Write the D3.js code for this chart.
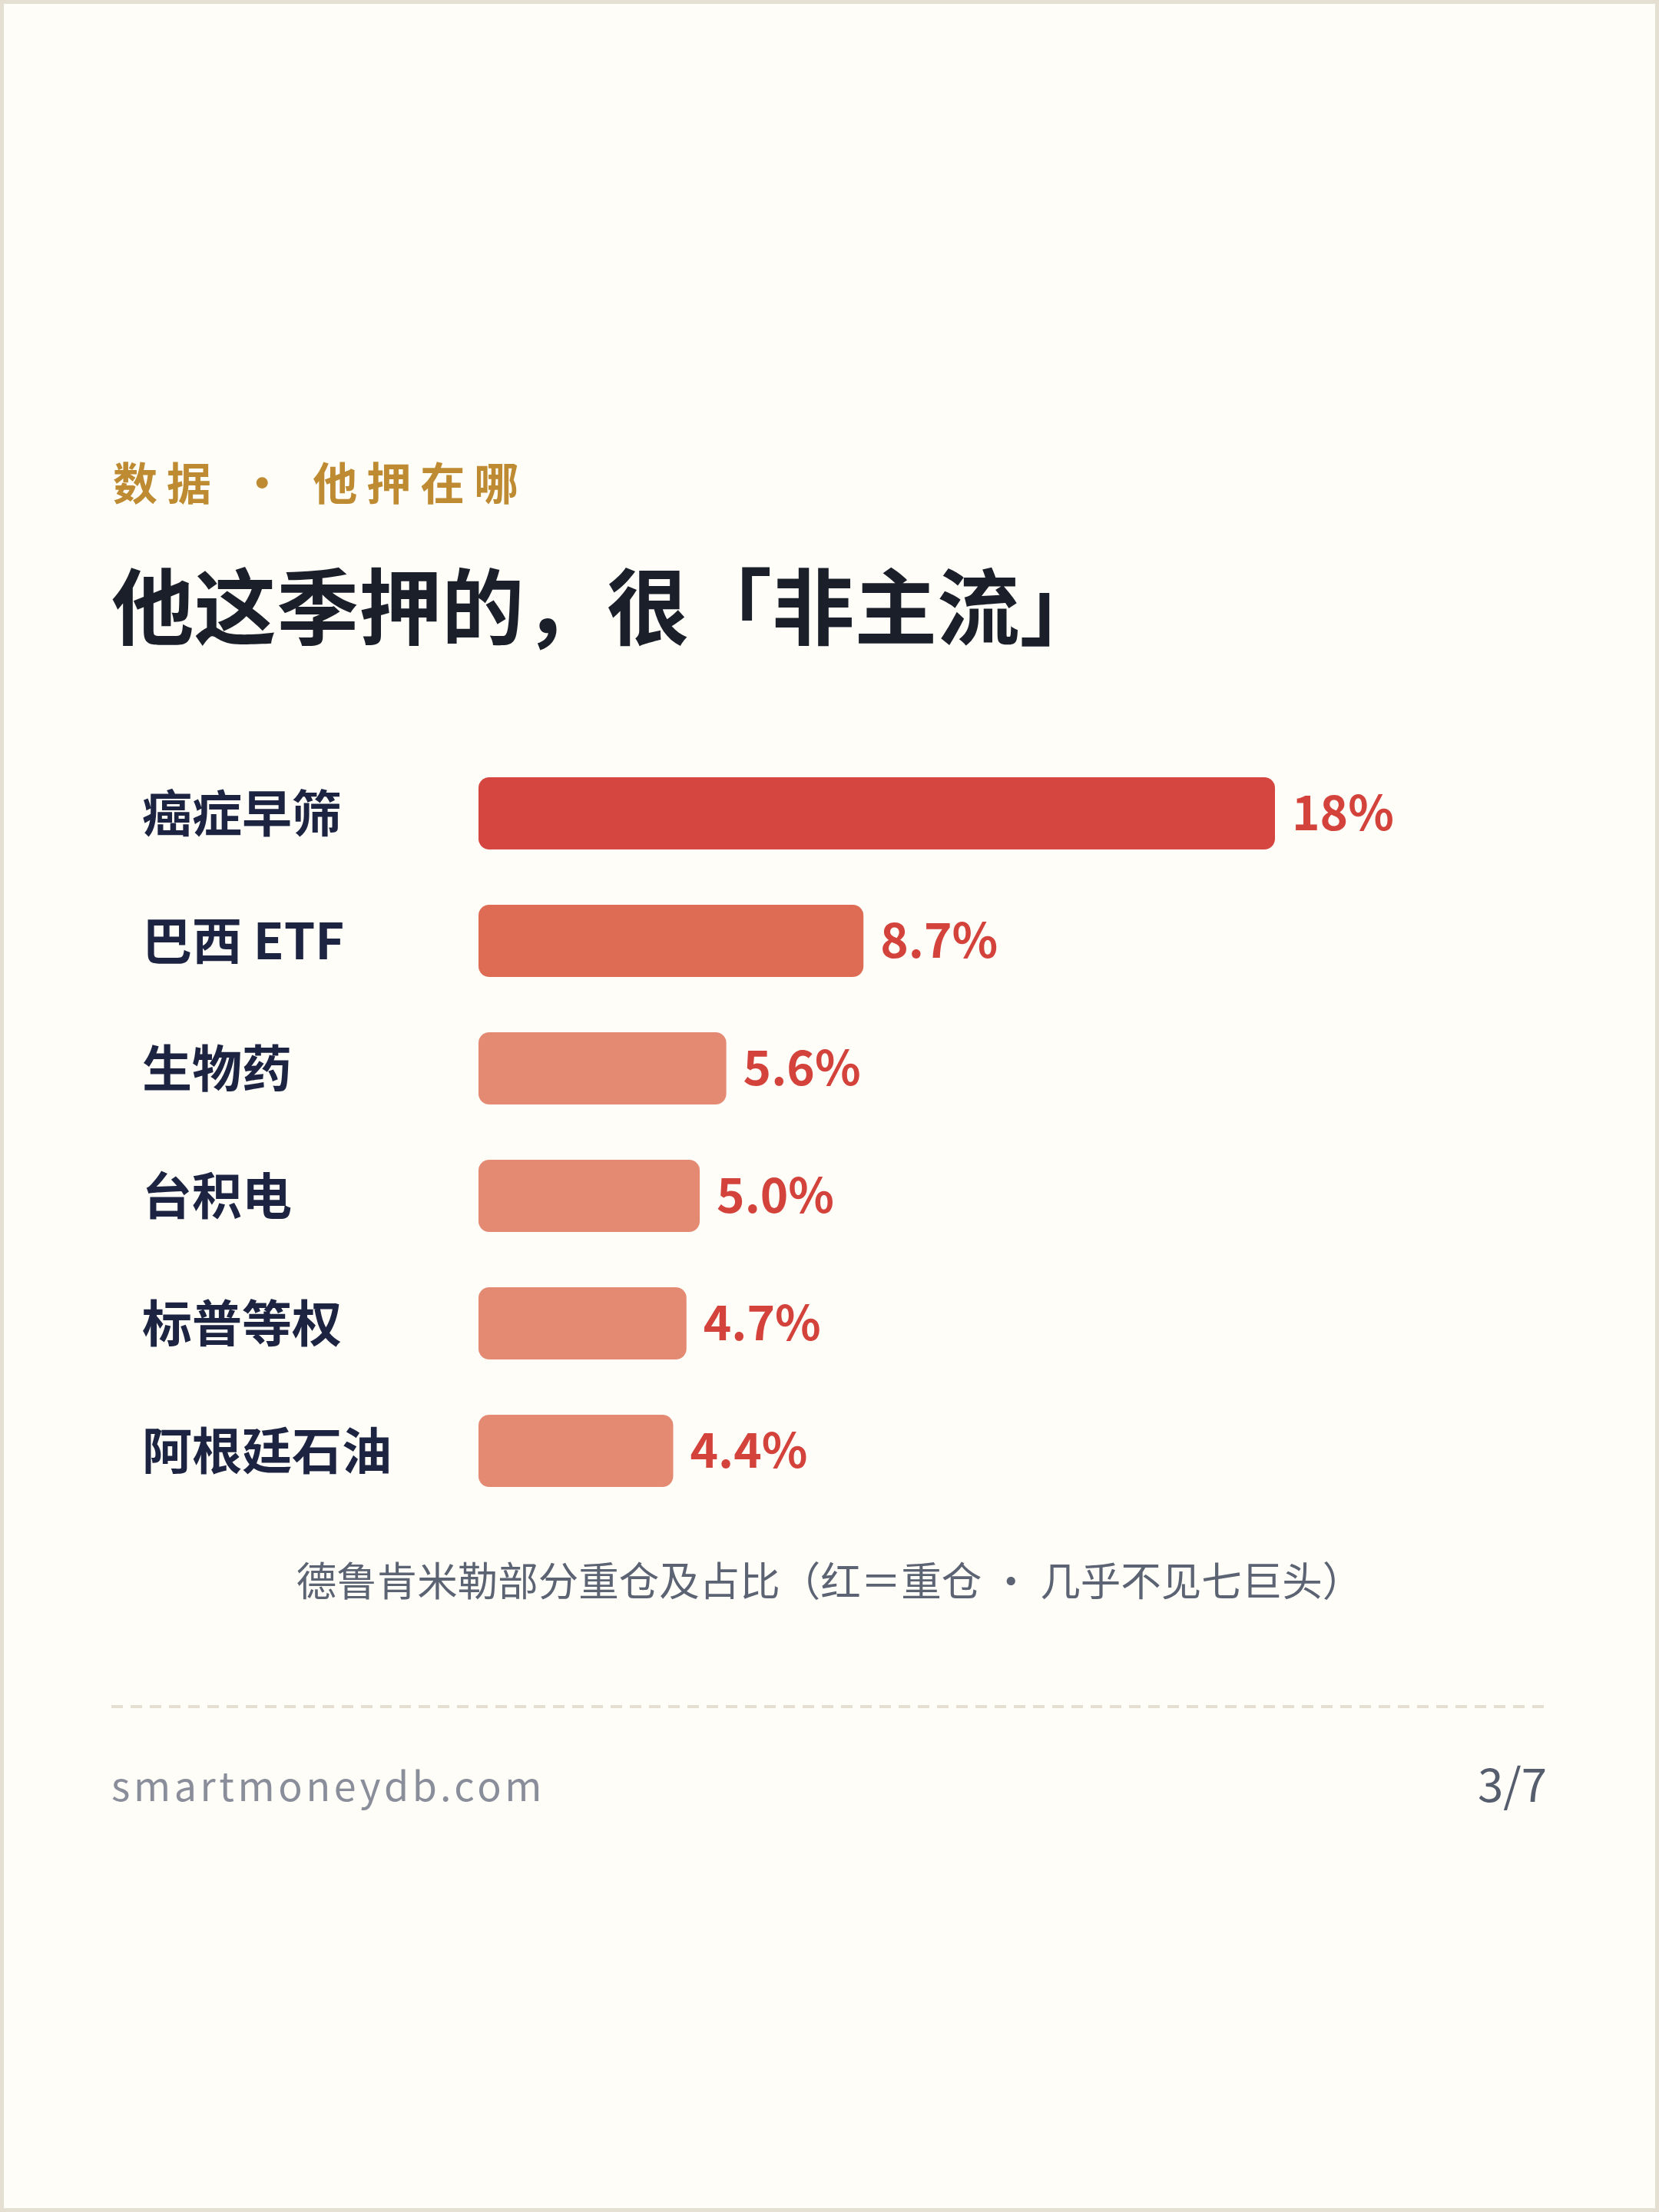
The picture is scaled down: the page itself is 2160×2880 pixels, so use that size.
<!DOCTYPE html>
<html>
<head>
<meta charset="utf-8">
<script src="https://cdn.jsdelivr.net/npm/d3@7"></script>
<style>
    html, body { margin: 0; padding: 0; background: #fefdf8; }
    svg { display: block; }
    text { font-family: "Noto Sans CJK SC", "Noto Sans", sans-serif; }
</style>
</head>
<body>
<svg id="chart"></svg>
<script>
var categories = ['癌症早筛', '巴西 ETF', '生物药', '台积电', '标普等权', '阿根廷石油'];
var values = [18, 8.7, 5.6, 5.0, 4.7, 4.4];
var valueLabels = ['18%', '8.7%', '5.6%', '5.0%', '4.7%', '4.4%'];
var barColors = ['#d4463f', '#de6c55', '#e48a73', '#e48a73', '#e48a73', '#e48a73'];

var kicker = '数据 · 他押在哪';
var title = '他这季押的，很「非主流」';
var caption = '德鲁肯米勒部分重仓及占比（红＝重仓 · 几乎不见七巨头）';
var site = 'smartmoneydb.com';
var pageNo = '3/7';

(function () {
    var W = 2160, H = 2880;
    var svg = d3.select('#chart').attr('width', W).attr('height', H);

    svg.append('rect')
        .attr('x', 2.5).attr('y', 2.5)
        .attr('width', W - 5).attr('height', H - 5)
        .attr('fill', '#fefdf8')
        .attr('stroke', '#e5dfd2')
        .attr('stroke-width', 5);

    svg.append('text')
        .attr('x', 147).attr('y', 651)
        .attr('font-size', 58).attr('font-weight', 700)
        .attr('letter-spacing', 12)
        .attr('fill', '#be8b32')
        .text(kicker);

    svg.append('text')
        .attr('x', 145).attr('y', 831)
        .attr('font-size', 107.5).attr('font-weight', 700)
        .attr('fill', '#1b1f2a')
        .text(title);

    var x = d3.scaleLinear().domain([0, 18]).range([623, 1660]);
    var y = d3.scaleBand().domain(categories)
        .range([1012, 1936])
        .paddingInner(72 / 166)
        .paddingOuter(0);

    var rows = svg.append('g').classed('bars', true)
        .selectAll('g')
        .data(categories)
        .enter().append('g');

    rows.append('rect')
        .attr('x', x(0))
        .attr('y', function (d) { return y(d); })
        .attr('width', function (d, i) { return x(values[i]) - x(0); })
        .attr('height', y.bandwidth())
        .attr('rx', 14).attr('ry', 14)
        .attr('fill', function (d, i) { return barColors[i]; });

    rows.append('text')
        .attr('x', 185)
        .attr('y', function (d) { return y(d) + y.bandwidth() / 2 + 24; })
        .attr('font-size', 65).attr('font-weight', 700)
        .attr('fill', '#1c2442')
        .text(function (d) { return d; });

    rows.append('text')
        .attr('x', function (d, i) { return x(values[i]) + 22; })
        .attr('y', function (d) { return y(d) + y.bandwidth() / 2 + 22; })
        .attr('font-size', 62).attr('font-weight', 700)
        .attr('fill', '#d4433b')
        .text(function (d, i) { return valueLabels[i]; });

    svg.append('text')
        .attr('x', W / 2).attr('y', 2078)
        .attr('text-anchor', 'middle')
        .attr('font-size', 52.5)
        .attr('fill', '#5c6373')
        .text(caption);

    svg.append('line')
        .attr('x1', 145).attr('x2', 2015)
        .attr('y1', 2222).attr('y2', 2222)
        .attr('stroke', '#e5dfd2')
        .attr('stroke-width', 4)
        .attr('stroke-dasharray', '15 10');

    svg.append('text')
        .attr('x', 145).attr('y', 2345)
        .attr('font-size', 52)
        .attr('letter-spacing', 4.6)
        .attr('fill', '#8a8e9a')
        .text(site);

    svg.append('text')
        .attr('x', 2014).attr('y', 2346)
        .attr('text-anchor', 'end')
        .attr('font-size', 60)
        .attr('fill', '#565d6d')
        .text(pageNo);
})();
</script>
</body>
</html>
